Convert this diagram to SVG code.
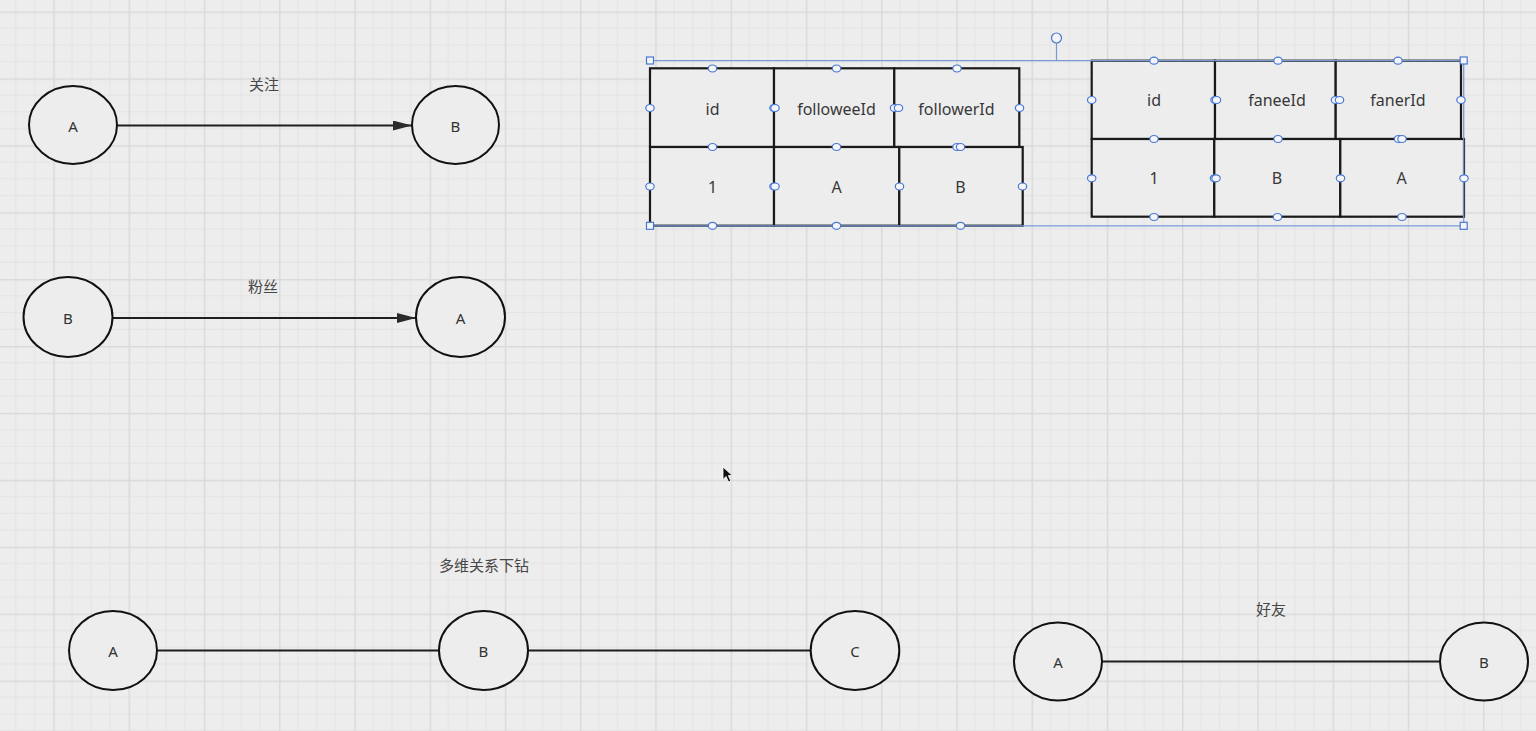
<svg xmlns="http://www.w3.org/2000/svg" width="1536" height="731" viewBox="0 0 1536 731">
<style>
.node{fill:#ededed;stroke:#111;stroke-width:2}
.cell{fill:#ededed;stroke:#1a1a1a;stroke-width:2.2}
.lbl{font-family:"Noto Sans","Liberation Sans",sans-serif;font-size:15px;fill:#333;text-anchor:middle}
.tl{font-family:"Noto Sans","Liberation Sans",sans-serif;font-size:16px;fill:#383838;text-anchor:middle}
.cjk{font-family:"Noto Sans CJK SC","Noto Sans",sans-serif;font-size:15px;fill:#474747;text-anchor:middle}
.edge{stroke:#1e1e1e;stroke-width:2;fill:none}
.h{fill:#f3f5fa;stroke:#4a78d0;stroke-width:1.2}
.sel{stroke:#7a9ad6;stroke-width:1.2;fill:none}
.sq{fill:#f3f5fa;stroke:#4a78d0;stroke-width:1.2}
</style>
<defs>
<pattern id="grid" patternUnits="userSpaceOnUse" x="53.3" y="11.5" width="75.25" height="66.9">
<rect width="75.25" height="66.9" fill="#ededed"/>
<g stroke="#e3e3e3" stroke-width="1">
<line x1="18.81" y1="0" x2="18.81" y2="66.9"/>
<line x1="37.62" y1="0" x2="37.62" y2="66.9"/>
<line x1="56.44" y1="0" x2="56.44" y2="66.9"/>
<line x1="0" y1="16.72" x2="75.25" y2="16.72"/>
<line x1="0" y1="33.45" x2="75.25" y2="33.45"/>
<line x1="0" y1="50.17" x2="75.25" y2="50.17"/>
</g>
<rect x="0" y="0" width="1.4" height="66.9" fill="#d9d9d9"/>
<rect x="0" y="0" width="75.25" height="1.4" fill="#d9d9d9"/>
</pattern>
<marker id="arr" markerUnits="userSpaceOnUse" markerWidth="20" markerHeight="12" refX="19" refY="5" orient="auto">
<path d="M0,0 L19,5 L0,10 Z" fill="#2a2a2a"/>
</marker>
</defs>
<rect x="0" y="0" width="1536" height="731" fill="url(#grid)"/>

<g id="connectors">
<line class="edge" x1="117" y1="125.5" x2="412" y2="125.5" marker-end="url(#arr)"/>
<line class="edge" x1="112" y1="318" x2="416" y2="318" marker-end="url(#arr)"/>
<line class="edge" x1="157" y1="650.5" x2="439" y2="650.5"/>
<line class="edge" x1="528" y1="650.5" x2="811" y2="650.5"/>
<line class="edge" x1="1102" y1="661.5" x2="1440" y2="661.5"/>
</g>

<g id="label-follow"><text class="cjk" x="264" y="90">关注</text></g>
<g id="label-fans"><text class="cjk" x="263" y="292">粉丝</text></g>
<g id="label-drill"><text class="cjk" x="484" y="571">多维关系下钻</text></g>
<g id="label-friend"><text class="cjk" x="1271" y="615">好友</text></g>

<g id="n1-A"><ellipse class="node" cx="73" cy="125" rx="44" ry="39"/><text class="lbl" x="73" y="131.5">A</text></g>
<g id="n1-B"><ellipse class="node" cx="455.5" cy="125" rx="43.5" ry="39"/><text class="lbl" x="455.5" y="131.5">B</text></g>
<g id="n2-B"><ellipse class="node" cx="68" cy="317" rx="44.5" ry="40"/><text class="lbl" x="68" y="323.5">B</text></g>
<g id="n2-A"><ellipse class="node" cx="460.5" cy="317" rx="44.5" ry="40"/><text class="lbl" x="460.5" y="323.5">A</text></g>
<g id="n3-A"><ellipse class="node" cx="113" cy="650.5" rx="44" ry="39.5"/><text class="lbl" x="113" y="656.5">A</text></g>
<g id="n3-B"><ellipse class="node" cx="483.5" cy="650.5" rx="44.5" ry="39.5"/><text class="lbl" x="483.5" y="656.5">B</text></g>
<g id="n3-C"><ellipse class="node" cx="855" cy="650.5" rx="44.3" ry="39.5"/><text class="lbl" x="855" y="656.5">C</text></g>
<g id="n4-A"><ellipse class="node" cx="1058" cy="661.5" rx="44" ry="39"/><text class="lbl" x="1058" y="667.5">A</text></g>
<g id="n4-B"><ellipse class="node" cx="1484" cy="661.5" rx="44" ry="39"/><text class="lbl" x="1484" y="667.5">B</text></g>

<g id="table-follow">
<rect class="cell" x="650" y="68.3" width="124" height="78.7"/>
<rect class="cell" x="774" y="68.3" width="120.3" height="78.7"/>
<rect class="cell" x="894.3" y="68.3" width="125" height="78.7"/>
<rect class="cell" x="650" y="147" width="124" height="78.7"/>
<rect class="cell" x="774" y="147" width="125.3" height="78.7"/>
<rect class="cell" x="899.3" y="147" width="123.4" height="78.7"/>
<text class="tl" x="712.5" y="114.7">id</text>
<text class="tl" x="836.5" y="114.7">followeeId</text>
<text class="tl" x="956.5" y="114.7">followerId</text>
<text class="tl" x="712.5" y="193">1</text>
<text class="tl" x="836.5" y="193">A</text>
<text class="tl" x="960.5" y="193">B</text>
</g>

<g id="table-fan">
<rect class="cell" x="1091.7" y="60.7" width="123.3" height="78.3"/>
<rect class="cell" x="1215" y="60.7" width="120.7" height="78.3"/>
<rect class="cell" x="1335.7" y="60.7" width="125.3" height="78.3"/>
<rect class="cell" x="1091.7" y="139" width="122.6" height="77.7"/>
<rect class="cell" x="1214.3" y="139" width="126" height="77.7"/>
<rect class="cell" x="1340.3" y="139" width="123.7" height="77.7"/>
<text class="tl" x="1154" y="105.7">id</text>
<text class="tl" x="1277" y="105.7">faneeId</text>
<text class="tl" x="1398" y="105.7">fanerId</text>
<text class="tl" x="1154" y="184">1</text>
<text class="tl" x="1277" y="184">B</text>
<text class="tl" x="1401.5" y="184">A</text>
</g>

<g id="selection">
<path class="sel" d="M650,60.6 H1463.7 M650,225.8 H1463.7 M1463.7,60.6 V225.8 M1056.5,43 V60.6"/>
<circle class="h" cx="1056.5" cy="38" r="5"/>
<rect class="sq" x="646.5" y="57" width="7" height="7"/>
<rect class="sq" x="646.5" y="222.3" width="7" height="7"/>
<rect class="sq" x="1460.2" y="57" width="7" height="7"/>
<rect class="sq" x="1460.2" y="222.3" width="7" height="7"/>
<g>
<ellipse class="h" cx="712.5" cy="68.5" rx="4.2" ry="3.5"/>
<ellipse class="h" cx="836.5" cy="68.5" rx="4.2" ry="3.5"/>
<ellipse class="h" cx="957" cy="68.5" rx="4.2" ry="3.5"/>
<ellipse class="h" cx="712.5" cy="147" rx="4.2" ry="3.5"/>
<ellipse class="h" cx="836.5" cy="147" rx="4.2" ry="3.5"/>
<ellipse class="h" cx="957" cy="147" rx="4.2" ry="3.5"/>
<ellipse class="h" cx="960.5" cy="147" rx="4.2" ry="3.5"/>
<ellipse class="h" cx="712.5" cy="225.8" rx="4.2" ry="3.5"/>
<ellipse class="h" cx="836.5" cy="225.8" rx="4.2" ry="3.5"/>
<ellipse class="h" cx="960.5" cy="225.8" rx="4.2" ry="3.5"/>
<ellipse class="h" cx="650" cy="108" rx="4.2" ry="3.5"/>
<ellipse class="h" cx="650" cy="186.5" rx="4.2" ry="3.5"/>
<ellipse class="h" cx="774" cy="108" rx="4.2" ry="3.5"/>
<ellipse class="h" cx="775" cy="108" rx="4.2" ry="3.5"/>
<ellipse class="h" cx="774" cy="186.5" rx="4.2" ry="3.5"/>
<ellipse class="h" cx="775" cy="186.5" rx="4.2" ry="3.5"/>
<ellipse class="h" cx="894.5" cy="108" rx="4.2" ry="3.5"/>
<ellipse class="h" cx="898.5" cy="108" rx="4.2" ry="3.5"/>
<ellipse class="h" cx="899.5" cy="186.5" rx="4.2" ry="3.5"/>
<ellipse class="h" cx="1019.5" cy="108" rx="4.2" ry="3.5"/>
<ellipse class="h" cx="1022.5" cy="186.5" rx="4.2" ry="3.5"/>
</g>
<g>
<ellipse class="h" cx="1154" cy="60.7" rx="4.2" ry="3.5"/>
<ellipse class="h" cx="1278" cy="60.7" rx="4.2" ry="3.5"/>
<ellipse class="h" cx="1398" cy="60.7" rx="4.2" ry="3.5"/>
<ellipse class="h" cx="1154" cy="139" rx="4.2" ry="3.5"/>
<ellipse class="h" cx="1278" cy="139" rx="4.2" ry="3.5"/>
<ellipse class="h" cx="1398.5" cy="139" rx="4.2" ry="3.5"/>
<ellipse class="h" cx="1402" cy="139" rx="4.2" ry="3.5"/>
<ellipse class="h" cx="1154" cy="217" rx="4.2" ry="3.5"/>
<ellipse class="h" cx="1277.5" cy="217" rx="4.2" ry="3.5"/>
<ellipse class="h" cx="1402" cy="217" rx="4.2" ry="3.5"/>
<ellipse class="h" cx="1091.7" cy="100" rx="4.2" ry="3.5"/>
<ellipse class="h" cx="1091.7" cy="178.3" rx="4.2" ry="3.5"/>
<ellipse class="h" cx="1215" cy="100" rx="4.2" ry="3.5"/>
<ellipse class="h" cx="1216.5" cy="100" rx="4.2" ry="3.5"/>
<ellipse class="h" cx="1214.5" cy="178.3" rx="4.2" ry="3.5"/>
<ellipse class="h" cx="1216" cy="178.3" rx="4.2" ry="3.5"/>
<ellipse class="h" cx="1335.5" cy="100" rx="4.2" ry="3.5"/>
<ellipse class="h" cx="1339.5" cy="100" rx="4.2" ry="3.5"/>
<ellipse class="h" cx="1340.5" cy="178.3" rx="4.2" ry="3.5"/>
<ellipse class="h" cx="1461" cy="100" rx="4.2" ry="3.5"/>
<ellipse class="h" cx="1464" cy="178.3" rx="4.2" ry="3.5"/>
</g>
</g>

<g id="cursor">
<path d="M723,467 L723,479.5 L726,476.5 L728.6,482 L730.8,481 L728.3,475.6 L732.3,475.6 Z" fill="#111" stroke="#fff" stroke-width="0.8"/>
</g>
</svg>
